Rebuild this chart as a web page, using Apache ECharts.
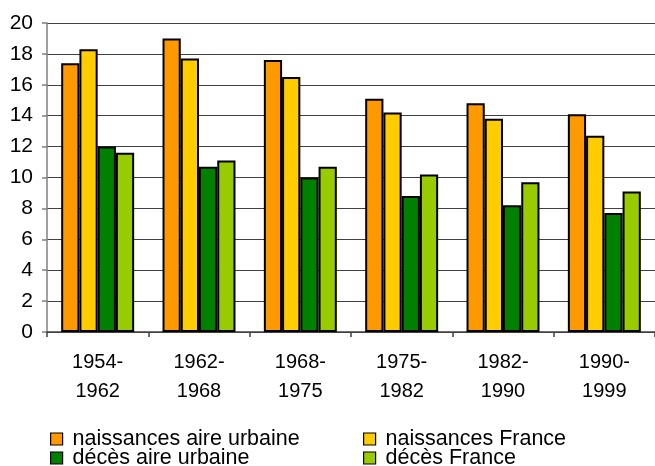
<!DOCTYPE html>
<html>
<head>
<meta charset="utf-8">
<script src="https://cdn.jsdelivr.net/npm/echarts@6/dist/echarts.min.js"></script>
<style>
html,body{margin:0;padding:0;background:#fff;}
#chart{width:655px;height:466px;}
</style>
</head>
<body>
<div id="chart"></div>
<script>
const categories = ['1954-\n1962', '1962-\n1968', '1968-\n1975', '1975-\n1982', '1982-\n1990', '1990-\n1999'];
const naissancesAire = [17.4, 19.0, 17.6, 15.1, 14.8, 14.1];
const naissancesFrance = [18.3, 17.7, 16.5, 14.2, 13.8, 12.7];
const decesAire = [12.0, 10.7, 10.0, 8.8, 8.2, 7.7];
const decesFrance = [11.6, 11.1, 10.7, 10.2, 9.7, 9.1];
const seriesNames = ['naissances aire urbaine', 'naissances France', 'décès aire urbaine', 'décès France'];
const colors = ['#FF9900', '#FFCC00', '#008000', '#99CC00'];
const yTicks = {min: 0, max: 20, interval: 2};

const font = 'Liberation Sans, Arial, sans-serif';
const chart = echarts.init(document.getElementById('chart'), null, {renderer: 'canvas'});
const dataSets = [naissancesAire, naissancesFrance, decesAire, decesFrance];

const legendPos = [[50, 428], [363, 428], [50, 447], [363, 447]];
const legends = seriesNames.map((name, i) => ({
  left: legendPos[i][0],
  top: legendPos[i][1],
  padding: 0,
  icon: 'rect',
  itemWidth: 12,
  itemHeight: 12,
  selectedMode: false,
  data: [name],
  textStyle: {fontFamily: font, fontSize: 21.5, color: '#000', lineHeight: 21, padding: [0, 0, 0, 5]},
  itemStyle: {borderColor: '#000', borderWidth: 1.2}
}));

chart.setOption({
  animation: false,
  backgroundColor: '#fff',
  graphic: [{
    type: 'text', left: 12, top: -13,
    style: {text: 'Source : INSEE', fontFamily: font, fontSize: 17, fill: '#999'}
  }],
  grid: {left: 47, top: 23, width: 612, height: 309, containLabel: false},
  legend: legends,
  xAxis: {
    type: 'category',
    data: categories,
    axisLine: {lineStyle: {color: '#404040', width: 1.5}},
    axisTick: {show: true, length: 5, lineStyle: {color: '#404040', width: 1.5}},
    axisLabel: {fontFamily: font, fontSize: 20, color: '#000', lineHeight: 29, margin: 16}
  },
  yAxis: {
    type: 'value',
    min: yTicks.min, max: yTicks.max, interval: yTicks.interval,
    axisLine: {show: true, lineStyle: {color: '#808080', width: 1.5}},
    axisTick: {show: true, length: 5, lineStyle: {color: '#808080', width: 1.5}},
    axisLabel: {fontFamily: font, fontSize: 21, color: '#000', margin: 14},
    splitLine: {lineStyle: {color: '#404040', width: 1}}
  },
  series: seriesNames.map((name, i) => ({
    name: name,
    type: 'bar',
    data: dataSets[i],
    barGap: '0%',
    barCategoryGap: '28%',
    itemStyle: {color: colors[i], borderColor: '#000', borderWidth: 2}
  }))
});
</script>
</body>
</html>
